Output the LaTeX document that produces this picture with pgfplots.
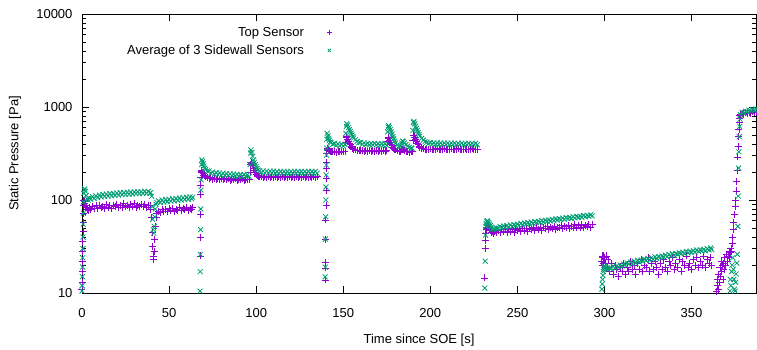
\documentclass[border=0pt]{standalone}
\usepackage{pgfplots}
\usepackage{pgfplotstable}
\pgfplotsset{compat=1.18}
\usepackage{fontspec}
\setmainfont{Liberation Sans}
\definecolor{gpurple}{RGB}{148,0,211}
\definecolor{ggreen}{RGB}{0,158,115}

\pgfplotstableread{
t top side
0.0 11 10.5
0.1 13 12
0.2 17 15
0.3 22 19
0.4 28 24
0.5 36 30
0.6 46 40
0.7 58 55
0.8 72 72
0.9 88 95
1.0 98 118
1.3 96 128
1.6 92 132
2.0 88 124
2.5 84 112
3.0 80 103
3.5 77 100
4 83 105
5 79 102
6 86 109
7 81 104
8 87 111
9 82 106
10 88 113
11 83 108
12 86 115
13 81 109
14 89 116
15 84 110
16 87 117
17 82 111
18 88 118
19 85 112
20 90 119
21 83 113
22 87 120
23 84 114
24 91 120
25 85 115
26 88 121
27 83 115
28 89 122
29 86 116
30 92 122
31 84 117
32 88 123
33 85 117
34 90 123
35 86 118
36 89 124
37 84 118
38 88 124
39 87 119
39.5 80 120
40.0 65 110
40.3 45 85
40.6 32 62
40.9 25 48
41.2 23 44
41.5 28 52
41.8 38 66
42.1 52 80
42.5 65 90
43 72 94
44 76 98
45 74 94
46 79 100
47 75 95
48 80 101
49 76 96
50 81 102
51 77 97
52 82 103
53 76 98
54 80 104
55 78 99
56 83 105
57 77 100
58 81 106
59 79 101
60 84 107
61 78 102
62 82 108
63 80 103
63.5 83 107
67.8 25 10.5
67.9 40 17
68.0 70 26
68.1 115 48
68.2 145 80
68.3 175 128
68.4 200 165
68.6 210 240
68.8 205 270
69.2 198 258
69.6 192 245
70 186 232
70.5 182 220
71 178 212
72 175 205
73 171 205
74 174 193
75 168 200
76 172 189
77 166 197
78 171 187
79 167 195
80 170 185
81 165 194
82 169 184
83 166 192
84 170 183
85 164 191
86 168 182
87 165 190
88 169 181
89 164 189
90 168 180
91 165 188
92 169 179
93 164 188
94 167 179
95 165 187
96 168 178
96.5 200 240
96.8 240 320
97 255 345
97.5 250 325
98 235 295
98.5 220 270
99 208 255
99.5 197 240
100 190 228
100.5 184 218
101 181 210
102 178 206
103 181 197
104 175 205
105 179 195
106 174 204
107 180 194
108 176 204
109 181 194
110 173 204
111 178 194
112 175 203
113 180 193
114 174 203
115 179 193
116 176 203
117 181 193
118 173 203
119 178 193
120 175 203
121 180 193
122 174 203
123 179 193
124 176 203
125 181 193
126 173 203
127 178 193
128 175 203
129 180 193
130 174 203
131 179 193
132 176 203
133 180 193
134 175 203
135 178 194
139.6 13.8 14.9
139.7 18.6 19
139.8 21.5 38
139.9 38 66
140.0 61 100
140.1 88 138
140.2 128 186
140.3 172 238
140.4 220 304
140.5 255 362
140.6 320 450
140.8 360 520
141.2 350 490
141.6 342 460
142 338 440
142.5 334 420
143 336 415
144 330 398
145 334 405
146 328 385
147 333 400
148 329 382
149 334 398
150 330 380
151 335 395
151.5 420 520
151.8 480 620
152 470 660
152.5 450 640
153 430 600
153.5 410 570
154 395 545
154.5 380 520
155 368 500
155.5 358 480
156 352 465
157 345 445
158 340 428
159 342 415
160 337 415
161 340 398
162 335 410
163 341 394
164 336 408
165 342 392
166 335 406
167 340 391
168 336 405
169 342 390
170 335 404
171 340 389
172 336 403
173 341 388
174 335 402
175 339 388
175.5 430 540
175.8 470 610
176 460 630
176.5 440 600
177 420 570
177.5 400 540
178 385 510
178.5 372 480
179 362 455
179.5 352 430
180 345 410
181 338 390
182 333 375
183 336 380
183.5 345 410
184 350 430
184.5 346 425
185 340 410
186 334 395
187 330 380
188 327 368
189 331 362
189.5 334 360
190 440 560
190.3 500 680
190.6 490 700
191 470 660
191.5 450 620
192 430 590
192.5 410 560
193 395 530
193.5 380 505
194 370 485
195 360 460
196 355 440
197 350 425
198 353 418
199 348 405
200 354 414
201 347 398
202 353 412
203 348 396
204 355 411
205 347 395
206 352 410
207 349 394
208 355 410
209 346 394
210 352 409
211 348 393
212 354 409
213 347 393
214 351 408
215 349 392
216 355 408
217 346 392
218 352 408
219 348 392
220 354 407
221 347 392
222 352 407
223 349 391
224 355 407
225 346 391
226 352 406
227 349 392
231.3 14.5 11.3
231.5 30 22
231.7 37 42
231.9 44 52
232.1 48 56
232.4 51 59
232.7 53 60
233 50 58
233.5 52 57
234 48 55
234.5 47 53
235 45 51
235.5 46 49
236 44 48
237 46 49
238 45 50
239 47 50
240 45 52
241 48 50
242 46 52.5
243 49 51
244 45 53
245 48 51.5
246 46 54
247 49 52
248 45 54.5
249 48 53
250 47 55
251 50 53.5
252 46 56
253 49 54
254 47 56.5
255 50 55
256 46 57
257 49 55.5
258 48 58
259 51 56
260 47 58.5
261 50 57
262 48 59
263 51 57.5
264 47 60
265 50 58
266 49 60.5
267 52 59
268 48 61
269 51 59.5
270 49 62
271 52 60
272 48 62.5
273 51 61
274 50 63
275 53 61.5
276 49 64
277 52 62
278 50 64.5
279 53 63
280 49 65
281 52 63.5
282 50 66
283 54 64
284 51 66.5
285 53 65
286 50 67
287 54 65.5
288 51 68
289 53 66
290 52 68.5
291 55 67
292 51 69
293 54 67.5
298.5 22 11
298.7 25 12.5
298.9 20 14
299.1 24 15.5
299.3 21 17
299.5 25 18
299.8 23 19
300 24 19.5
300.5 21 19
301 25 18.5
301.5 19 18
302 23 18
303 17 18.5
304 21 18.5
305 16 19.5
306 20 18.5
307 18 19.5
308 15 19
309 19 20
310 17 19.5
311 21 20.5
312 16 20
313 19 21
314 17 20.5
315 22 21.5
316 18 20.5
317 20 22
318 16 21
319 21 22.5
320 18 21.5
321 23 22.5
322 17 22
323 20 23
324 19 22.5
325 24 23.5
326 17 22.5
327 21 24
328 18 23
329 22 24.5
330 19 23.5
331 16 24.5
332 21 24
333 18 25
334 23 24.5
335 19 25.5
336 17 24.5
337 22 26
338 20 25
339 24 26.5
340 18 25.5
341 21 26.5
342 19 26
343 23 27
344 17 26.5
345 22 27.5
346 20 26.5
347 25 28
348 19 27
349 21 28
350 18 27.5
351 23 28.5
352 20 27.5
353 24 29
354 19 28
355 22 29
356 20 28.5
357 25 29.5
358 19 28.5
359 23 30
360 21 29
361 24 30.5
361.5 20 29.5
364.5 10.5 nan
364.8 12 nan
365 14 nan
365.3 11 nan
365.6 16 nan
366 13 nan
366.3 19 nan
366.6 15 nan
367 22 nan
367.3 17 nan
367.6 20 nan
368 14 nan
368.3 21 nan
368.6 18 nan
369 24 nan
369.5 20 nan
370 26 nan
370.5 22 nan
371 25 nan
371.5 28 nan
372 24 10.5
372.3 27 14
372.6 30 12
373 28 17
373.3 34 20
373.6 40 24
374 48 18
374.3 58 14
374.6 70 11
375 85 10.5
375.3 100 13
375.6 125 16
376 160 21
376.3 210 26
376.6 290 52
376.8 380 110
377 480 220
377.2 580 330
377.4 680 480
377.6 760 620
377.8 810 740
378 830 830
379 860 880
380 840 860
381 870 900
382 850 890
383 880 920
384 860 910
385 890 940
386 870 930
387 900 950
}\data

\begin{document}
\fontsize{13}{16}\selectfont
\begin{tikzpicture}
\path[use as bounding box] (-82pt,-56pt) rectangle (675pt,293pt);
\begin{axis}[
  at={(0pt,0pt)}, anchor=south west,
  scale only axis, width=674pt, height=279pt,
  xmin=0, xmax=387, ymin=10, ymax=10000,
  ymode=log,
  xtick={0,50,...,350},
  ytick={10,100,1000,10000},
  yticklabels={10,100,1000,10000},
  /pgf/number format/assume math mode=true,
  clip=false,
  tick align=inside,
  major tick length=7pt, minor tick length=4pt,
  every tick/.style={black, line width=0.6pt},
  axis line style={line width=0.8pt},
  xticklabel style={yshift=-11pt},
  yticklabel style={xshift=-5pt},
  xlabel={Time since SOE [s]},
  ylabel={Static Pressure [Pa]},
  every axis x label/.style={at={(axis description cs:0.5,-0.1685)}, anchor=center},
  every axis y label/.style={at={(axis description cs:-0.0994,0.5)}, anchor=center, rotate=90},
  legend style={draw=none, fill=none, at={(rel axis cs:0.375,0.968)}, anchor=north east, row sep=2.6pt},
  legend cell align=right,
  legend plot pos=right,
  legend image code/.code={\path (-23pt,0pt); \draw[#1, mark size=2.2pt] plot coordinates {(0pt,0pt)};},
]
\addplot[only marks, mark=+, mark size=3.5pt, line width=0.8pt, color=gpurple] table[x=t, y=top] {\data};
\addlegendentry{Top Sensor}
\addplot[only marks, mark=x, mark size=3.5pt, line width=0.8pt, color=ggreen] table[x=t, y=side] {\data};
\addlegendentry{Average of 3 Sidewall Sensors}
\end{axis}
\end{tikzpicture}
\end{document}
